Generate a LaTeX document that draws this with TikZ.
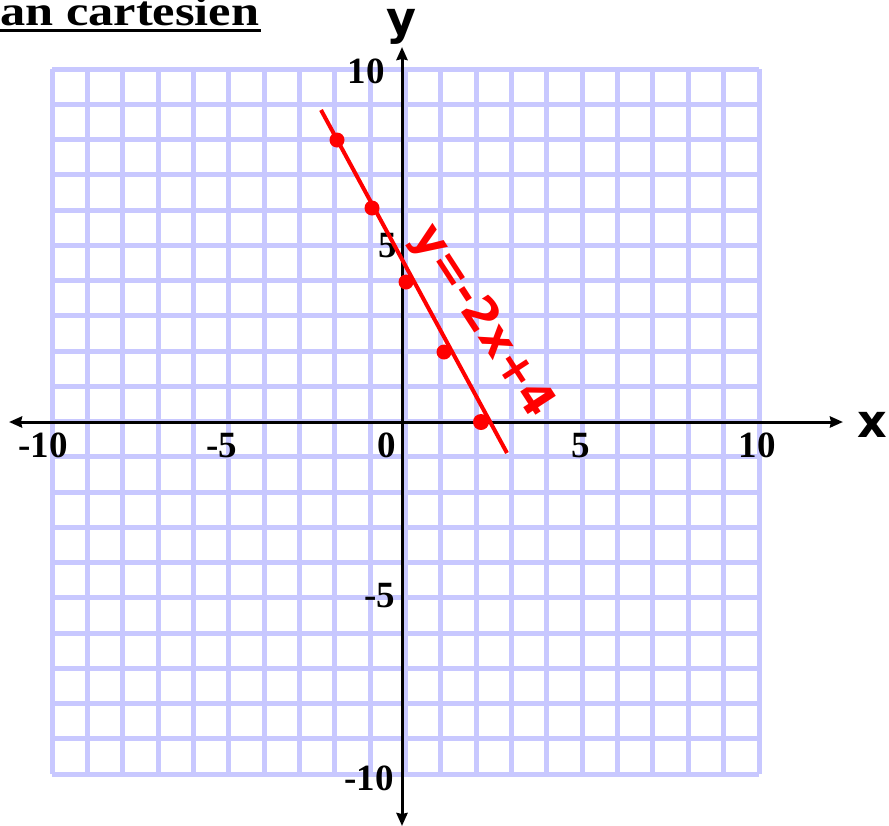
\documentclass[tikz,border=0pt]{standalone}
\usepackage{fontspec}
\setmainfont{Liberation Serif}
\newfontfamily\axisfont{DejaVu Sans}
\newfontfamily\handfont{DejaVu Sans}
\usetikzlibrary{arrows.meta}
\definecolor{gridblue}{RGB}{200,200,255}
\definecolor{inkred}{RGB}{255,0,0}
\tikzset{
  gridline/.style={draw=gridblue, line width=5pt, line cap=square},
  axisline/.style={draw=black, line width=3pt, {Stealth[length=13pt,width=11pt,inset=1pt]}-{Stealth[length=13pt,width=11pt,inset=1pt]}},
  ticklabel/.style={font=\fontsize{37}{37}\selectfont\bfseries, anchor=base, inner sep=0pt},
  axislabel/.style={font=\axisfont\fontsize{46}{46}\selectfont\bfseries, anchor=base, inner sep=0pt},
  redline/.style={draw=inkred, line width=4pt},
  dot/.style={circle, fill=inkred, inner sep=0pt, minimum size=15pt},
  handtext/.style={text=inkred, font=\handfont\fontsize{46}{46}\selectfont\bfseries, inner sep=0pt}
}
\begin{document}
\begin{tikzpicture}[x=1pt,y=-1pt]
\useasboundingbox (0,0) rectangle (889,825);
% grid
\foreach \i in {0,...,20}{
  \draw[gridline] ({52+35.35*\i},69) -- ({52+35.35*\i},774);
  \draw[gridline] (52,{69+35.25*\i}) -- (759,{69+35.25*\i});
}
% title
\node[anchor=base west, inner sep=0pt, xscale=1.2, font=\fontsize{42}{42}\selectfont\bfseries] (title) at (0,25) {an cartesien};
\draw[line width=3pt] (0,30) -- (261,30);
% axes
\coordinate (xl) at (9,422);
\coordinate (xr) at (843,422);
\coordinate (yt) at (402,47);
\coordinate (yb) at (402,826);
\draw[axisline] (xl) -- (xr);
\draw[axisline] (yb) -- (yt);
\node[axislabel] (xlab) at (872,437) {x};
\node[axislabel] (ylab) at (401,34) {y};
% tick labels
\node[ticklabel] (t1) at (43,457) {-10};
\node[ticklabel] (t2) at (222,457) {-5};
\node[ticklabel] (t3) at (387,457) {0};
\node[ticklabel] (t4) at (581,457) {5};
\node[ticklabel] (t5) at (757,457) {10};
\node[ticklabel] (t6) at (366,83) {10};
\node[ticklabel] (t7) at (388,257) {5};
\node[ticklabel] (t8) at (380,607) {-5};
\node[ticklabel] (t9) at (369,790) {-10};
% red line
\coordinate (l1) at (321,110);
\coordinate (l2) at (507,453);
\draw[redline] (l1) -- (l2);
\node[dot] (d1) at (337,140) {};
\node[dot] (d2) at (372,208) {};
\node[dot] (d3) at (406,282) {};
\node[dot] (d4) at (444,352) {};
\node[dot, minimum size=16pt] (d5) at (481,422) {};
\node[handtext, rotate=-57] (eq) at (482,322) {y=-2x+4};
\end{tikzpicture}
\end{document}
